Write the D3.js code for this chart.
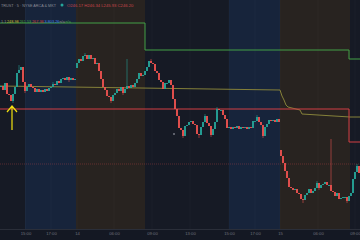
<!DOCTYPE html>
<html lang="en">
<head>
<meta charset="UTF-8">
<title>5m candles</title>
<script src="https://d3js.org/d3.v7.min.js"></script>
<style>
  html, body { margin: 0; padding: 0; background: #161a25; overflow: hidden; }
  svg { display: block; font-family: "Liberation Sans", Arial, sans-serif; }
</style>
</head>
<body>
<svg id="chart"></svg>
<script>
// one close per 5 min bar, left to right
const closes = [
  247.14, 247.10, 247.17, 247.06, 247.05, 246.99, 247.06, 247.13, 247.27, 247.30,
  247.33, 247.18, 247.09, 247.13, 247.16, 247.13, 247.12, 247.08, 247.11, 247.08,
  247.10, 247.08, 247.11, 247.09, 247.12, 247.13, 247.16, 247.15, 247.19, 247.17,
  247.21, 247.22, 247.20, 247.23, 247.20, 247.22, 247.20, 247.21, 247.37, 247.41,
  247.39, 247.44, 247.45, 247.41, 247.45, 247.41, 247.42, 247.36, 247.37, 247.29,
  247.21, 247.13, 247.10, 247.04, 247.03, 246.99, 247.05, 247.07, 247.11, 247.09,
  247.13, 247.07, 247.11, 247.14, 247.12, 247.15, 247.13, 247.17, 247.21, 247.27,
  247.24, 247.25, 247.29, 247.33, 247.39, 247.37, 247.36, 247.29, 247.27, 247.20,
  247.18, 247.11, 247.17, 247.17, 247.20, 247.15, 247.01, 246.91, 246.84, 246.72,
  246.70, 246.64, 246.74, 246.75, 246.78, 246.79, 246.76, 246.75, 246.66, 246.65,
  246.73, 246.78, 246.84, 246.77, 246.74, 246.65, 246.71, 246.78, 246.91, 246.90,
  246.90, 246.85, 246.81, 246.72, 246.73, 246.71, 246.73, 246.72, 246.74, 246.71,
  246.73, 246.72, 246.73, 246.71, 246.73, 246.72, 246.79, 246.79, 246.83, 246.78,
  246.75, 246.64, 246.73, 246.76, 246.80, 246.79, 246.80, 246.78, 246.81, 246.78,
  246.44, 246.37, 246.29, 246.22, 246.13, 246.12, 246.10, 246.11, 246.07, 246.06,
  246.01, 246.00, 246.05, 246.07, 246.11, 246.07, 246.09, 246.12, 246.17, 246.12,
  246.15, 246.16, 246.18, 246.15, 246.15, 246.09, 246.08, 246.04, 246.07, 246.01,
  246.02, 246.03, 246.03, 245.99, 246.04, 246.07, 246.21, 246.28, 246.34, 246.27
];
// bars that opened away from the previous close (new session)
const gapOpens = { 38: 247.32, 140: 246.50 };
// wicks that stick out past the body
const highs = { 9: 247.35, 26: 247.18, 42: 247.47, 63: 247.41, 75: 247.41, 102: 246.86,
                108: 246.93, 128: 246.85, 158: 246.19, 165: 246.61, 178: 246.36 };
const lows = { 6: 246.97, 12: 247.07, 34: 247.18, 55: 246.97, 61: 247.05, 91: 246.62,
               99: 246.62, 105: 246.63, 131: 246.62, 151: 245.97, 159: 246.10, 173: 245.97 };

const lastPrice = 246.36;

// step levels: [bar, price]
const greenLevel = [[0, 247.77], [72.5, 247.50], [174.5, 247.41], [180, 247.41]];
const oliveLevel = [[0, 247.14], [140, 247.10], [141, 247.04], [142, 247.00], [143, 246.95],
                    [144, 246.93], [150, 246.90], [151, 246.86], [175, 246.83], [180, 246.83]];
const redLevel = [[0, 246.91], [174.5, 246.58], [180, 246.58]];

// sessions in bar units
const sessions = [
  { from: 0, to: 12.5, kind: "reg" }, { from: 12.5, to: 38, kind: "post" },
  { from: 38, to: 72.5, kind: "pre" }, { from: 72.5, to: 114.5, kind: "reg" },
  { from: 114.5, to: 140, kind: "post" }, { from: 140, to: 175, kind: "pre" },
  { from: 175, to: 180, kind: "reg" }
];

const tickBars = [12.75, 25.5, 38.5, 57, 76, 95, 114.5, 127.5, 140, 159, 177.5];
const tickLabels = ["15:00", "17:00", "14", "06:00", "09:00", "13:00", "15:00", "17:00", "15", "06:00", "09:00"];

const arrowMark = { bar: 6, tip: 246.94, tail: 246.70 };
const dotMark = { bar: 87, price: 246.66 };

const W = 360, H = 240, plotH = 229;
const sessionFill = { reg: "#161a25", post: "#17243b", pre: "#282320" };

const svg = d3.select("#chart").attr("width", W).attr("height", H);

const x = d3.scaleLinear().domain([0, 180]).range([0, W]);
const y = d3.scaleLinear().domain([245.71, 248.0]).range([plotH, 0]);

svg.selectAll("rect.session")
  .data(sessions)
  .enter().append("rect")
  .attr("class", "session")
  .attr("x", d => x(d.from))
  .attr("y", 0)
  .attr("width", d => x(d.to) - x(d.from))
  .attr("height", plotH)
  .attr("fill", d => sessionFill[d.kind]);

// faint vertical grid
svg.selectAll("line.vgrid")
  .data(tickBars)
  .enter().append("line")
  .attr("x1", d => x(d)).attr("x2", d => x(d))
  .attr("y1", 0).attr("y2", plotH)
  .attr("stroke", "#ffffff").attr("stroke-opacity", 0.025);

// last price dotted line
svg.append("line")
  .attr("x1", 0).attr("x2", W)
  .attr("y1", y(lastPrice)).attr("y2", y(lastPrice))
  .attr("stroke", "#ef5350").attr("stroke-opacity", 0.3)
  .attr("stroke-dasharray", "1,1");

const step = d3.line().x(d => x(d[0])).y(d => y(d[1])).curve(d3.curveStepAfter);
const slopeLine = d3.line().x(d => x(d[0])).y(d => y(d[1]));

svg.append("path").attr("d", step(greenLevel))
  .attr("fill", "none").attr("stroke", "#43a047").attr("stroke-width", 1);
svg.append("path").attr("d", slopeLine(oliveLevel))
  .attr("fill", "none").attr("stroke", "#85813a").attr("stroke-width", 1);
svg.append("path").attr("d", step(redLevel))
  .attr("fill", "none").attr("stroke", "#d23f44").attr("stroke-width", 1);

// candles
const bars = closes.map((c, i) => {
  const o = gapOpens[i] !== undefined ? gapOpens[i] : (i > 0 ? closes[i - 1] : c);
  const hi = Math.max(o, c, highs[i] || -Infinity);
  const lo = Math.min(o, c, lows[i] || Infinity);
  return { i, o, c, hi, lo };
});
const up = "#26a69a", down = "#ef5350";

const candle = svg.append("g").selectAll("g")
  .data(bars).enter().append("g");
candle.append("line")
  .attr("x1", d => x(d.i + 0.5)).attr("x2", d => x(d.i + 0.5))
  .attr("y1", d => y(d.hi)).attr("y2", d => y(d.lo))
  .attr("stroke", d => d.c >= d.o ? up : down)
  .attr("stroke-width", 0.7).attr("stroke-opacity", 0.8);
candle.append("rect")
  .attr("x", d => x(d.i + 0.5) - 0.9)
  .attr("width", 1.8)
  .attr("y", d => y(Math.max(d.o, d.c)))
  .attr("height", d => Math.max(1, Math.abs(y(d.o) - y(d.c))))
  .attr("fill", d => d.c >= d.o ? up : down);

svg.append("rect")
  .attr("x", x(dotMark.bar) - 1).attr("y", y(dotMark.price) - 1)
  .attr("width", 2).attr("height", 2).attr("fill", "#5d606b");

// yellow arrow
const ax = x(arrowMark.bar), at = y(arrowMark.tip);
svg.append("path")
  .attr("d", `M${ax},${y(arrowMark.tail)}L${ax},${at}M${ax - 5},${at + 6}L${ax},${at}L${ax + 5},${at + 6}`)
  .attr("fill", "none").attr("stroke", "#f2e10f").attr("stroke-width", 1.2);

// time axis
svg.append("rect").attr("x", 0).attr("y", plotH).attr("width", W).attr("height", H - plotH)
  .attr("fill", "#141823");
svg.append("line").attr("x1", 0).attr("x2", W).attr("y1", plotH + 0.5).attr("y2", plotH + 0.5)
  .attr("stroke", "#2a2e39");

const xAxis = d3.axisBottom(x)
  .tickValues(tickBars)
  .tickFormat((d, i) => tickLabels[i])
  .tickSize(0).tickPadding(3);
const gx = svg.append("g").attr("transform", `translate(0,${plotH})`).call(xAxis);
gx.select(".domain").remove();
gx.selectAll("text").attr("fill", "#6f727c").attr("font-size", 4.2)
  .attr("font-family", "'Liberation Sans', Arial, sans-serif");

// legend
const legend = svg.append("g").attr("font-size", 4.2);
legend.append("text").attr("x", 1).attr("y", 7)
  .attr("fill", "#8a8d96").attr("textLength", 55).attr("lengthAdjust", "spacingAndGlyphs")
  .text("TRUST · 5 · NYSE ARCA & MKT");
legend.append("circle").attr("cx", 62).attr("cy", 5).attr("r", 1.5).attr("fill", "#26a69a");
legend.append("text").attr("x", 67).attr("y", 7).attr("fill", "#c8454a")
  .text("O246.17 H246.34 L245.93 C246.20");

const studyVals = ["1.1", "248.98", "261.53", "267.36", "3.80", "3.26", "n/a", "n/a"];
const studyCols = ["#8a8d96", "#c9bf3c", "#43a047", "#d23f44", "#3f7ee8", "#3f7ee8", "#8a8d96", "#43a047"];
const studyX = [1, 7, 19.5, 32, 44.5, 52, 59.5, 65.5];
legend.selectAll("text.study")
  .data(studyVals).enter().append("text")
  .attr("class", "study")
  .attr("x", (d, i) => studyX[i]).attr("y", 22.5)
  .attr("font-size", 3.8)
  .attr("fill", (d, i) => studyCols[i])
  .text(d => d);
</script>
</body>
</html>
